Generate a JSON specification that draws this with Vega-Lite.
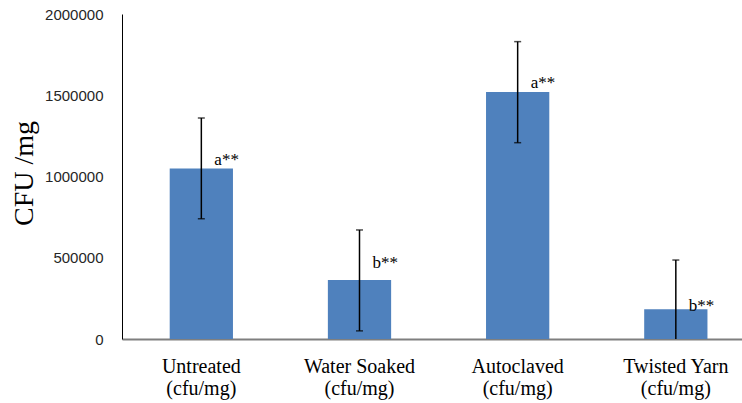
{
  "$schema": "https://vega.github.io/schema/vega-lite/v6.json",
  "width": 620,
  "height": 325,
  "autosize": "none",
  "padding": {"left": 122, "top": 14, "right": 0, "bottom": 64},
  "background": "white",
  "config": {"view": {"stroke": null}},
  "data": {
    "values": [
      {"group": "Untreated (cfu/mg)", "cfu": 1050000, "low": 740000, "high": 1360000, "sig": "a**", "labelY": 1070000},
      {"group": "Water Soaked (cfu/mg)", "cfu": 363000, "low": 50000, "high": 671000, "sig": "b**", "labelY": 437000},
      {"group": "Autoclaved (cfu/mg)", "cfu": 1520000, "low": 1208000, "high": 1830000, "sig": "a**", "labelY": 1545000},
      {"group": "Twisted Yarn (cfu/mg)", "cfu": 183000, "low": -120000, "high": 486000, "sig": "b**", "labelY": 174000}
    ]
  },
  "encoding": {
    "x": {
      "field": "group",
      "type": "nominal",
      "sort": null,
      "scale": {"paddingInner": 0.6, "paddingOuter": 0.26, "align": 0.58},
      "axis": {
        "title": null,
        "labelAngle": 0,
        "ticks": false,
        "domainColor": "#7f7f7f",
        "domainWidth": 2,
        "labelFont": "Liberation Serif",
        "labelFontSize": 20,
        "labelColor": "#000000",
        "labelPadding": 17,
        "labelLineHeight": 22,
        "labelBaseline": "top",
        "labelExpr": "[slice(datum.label, 0, indexof(datum.label, ' (')), slice(datum.label, indexof(datum.label, ' (') + 1)]"
      }
    }
  },
  "layer": [
    {
      "mark": {"type": "bar", "color": "#4F81BD"},
      "encoding": {
        "y": {
          "field": "cfu",
          "type": "quantitative",
          "scale": {"domain": [0, 2000000], "nice": false},
          "axis": {
            "values": [0, 500000, 1000000, 1500000, 2000000],
            "format": "d",
            "grid": false,
            "ticks": false,
            "labelFlush": false,
            "labelBound": false,
            "labelPadding": 19,
            "labelFont": "Liberation Sans",
            "labelFontSize": 15,
            "labelColor": "#262626",
            "domainColor": "#000000",
            "domainWidth": 1,
            "title": "CFU /mg",
            "titleFont": "Liberation Serif",
            "titleFontSize": 28,
            "titleFontWeight": "normal",
            "titleColor": "#000000",
            "titleAngle": 270,
            "titleAlign": "center",
            "titleBaseline": "middle",
            "titleX": -98,
            "titleY": 159
          }
        }
      }
    },
    {
      "mark": {"type": "rule", "color": "#000000", "strokeWidth": 1.5, "clip": true},
      "encoding": {
        "y": {"field": "low", "type": "quantitative"},
        "y2": {"field": "high"}
      }
    },
    {
      "mark": {"type": "tick", "color": "#000000", "thickness": 1.5, "size": 7, "clip": true},
      "encoding": {"y": {"field": "high", "type": "quantitative"}}
    },
    {
      "mark": {"type": "tick", "color": "#000000", "thickness": 1.5, "size": 7, "clip": true},
      "encoding": {"y": {"field": "low", "type": "quantitative"}}
    },
    {
      "mark": {"type": "text", "align": "left", "baseline": "alphabetic", "dx": 13, "font": "Liberation Serif", "fontSize": 17, "color": "#000000"},
      "encoding": {
        "y": {"field": "labelY", "type": "quantitative"},
        "text": {"field": "sig"}
      }
    }
  ]
}
